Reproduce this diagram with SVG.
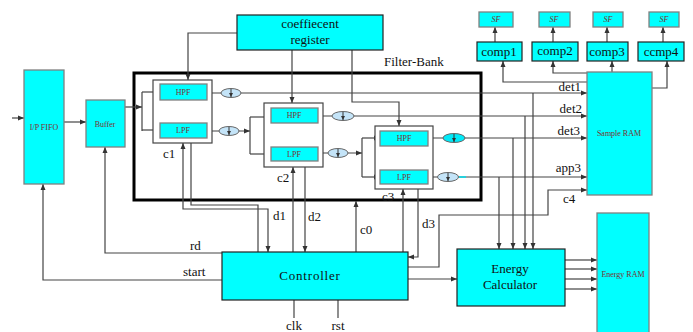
<svg xmlns="http://www.w3.org/2000/svg" width="693" height="332" viewBox="0 0 693 332">
<style>
.box{fill:#00ffff;stroke:#808080;stroke-width:1.3}
.bk{fill:#00ffff;stroke:#222;stroke-width:1.2}
.cbox{fill:#fff;stroke:#444;stroke-width:1.2}
.w{fill:none;stroke:#444;stroke-width:1.2}
.a{marker-end:url(#ar)}
.el{fill:#c4e4f8;stroke:#666;stroke-width:1}
.ea{stroke:#333;stroke-width:1;marker-end:url(#ea)}
.t{font-family:"Liberation Serif",serif;font-size:13px;fill:#111}
.m{font-family:"Liberation Serif",serif;font-size:8px;fill:#7a3030;text-anchor:middle}
</style>
<defs>
<marker id="ar" markerUnits="userSpaceOnUse" markerWidth="6" markerHeight="6" refX="6" refY="3" orient="auto-start-reverse"><path d="M0,0.5 L6,3 L0,5.5 z" fill="#333"/></marker>
<marker id="ea" markerUnits="userSpaceOnUse" markerWidth="4" markerHeight="4" refX="4" refY="2" orient="auto"><path d="M0,0 L4,2 L0,4 z" fill="#333"/></marker>
</defs>
<rect width="693" height="332" fill="#fff"/>

<g id="filter-bank">
<rect x="134" y="73" width="347" height="127" fill="none" stroke="#000" stroke-width="3"/>
<text class="t" x="384" y="66">Filter-Bank</text>
</g>

<g id="connectors">
<path class="w a" d="M12,118 H24"/>
<path class="w a" d="M64,122 H86"/>
<path class="w a" d="M125,107 H142"/>
<path class="w" d="M142,92 V131"/>
<path class="w a" d="M142,92 H160"/>
<path class="w a" d="M142,130 H160"/>
<path class="w a" d="M237,33 H188 V80"/>
<path class="w a" d="M292,50 V103"/>
<path class="w a" d="M352,50 V102 H399 V126"/>
<path class="w a" d="M207,93 H587"/>
<path class="w a" d="M207,131 H250"/>
<path class="w" d="M250,117 V154"/>
<path class="w a" d="M250,117 H271"/>
<path class="w a" d="M250,154 H271"/>
<path class="w a" d="M318,116 H587"/>
<path class="w a" d="M318,153 H362"/>
<path class="w" d="M362,138 V177"/>
<path class="w a" d="M362,138 H380"/>
<path class="w a" d="M362,177 H380"/>
<path class="w a" d="M428,138 H587"/>
<path class="w a" d="M428,177 H587"/>
<path d="M459,177 H466" stroke="#00e0f0" stroke-width="1.5"/>
<path class="w a" d="M408,267 H439 V215 H548 V190 H587"/>
<path class="w a" d="M418,189 V257 H408"/>
<path class="w a" d="M403,252 V189"/>
<path class="w a" d="M356,252 V201"/>
<path class="w a" d="M305,167 V252"/>
<path class="w a" d="M293,252 V167"/>
<path class="w a" d="M268,252 V209 H183 V143" style="marker-start:url(#ar)"/>
<path class="w" d="M191,143 V205 H258 V252"/>
<path class="w a" d="M222,253 H105 V147"/>
<path class="w a" d="M222,280 H43 V184"/>
<path class="w a" d="M408,279 H457"/>
<path class="w a" d="M533,93 V249"/>
<path class="w a" d="M525,116 V249"/>
<path class="w a" d="M513,138 V249"/>
<path class="w a" d="M499,177 V249"/>
<path class="w a" d="M565,260 H597"/>
<path class="w a" d="M565,269 H597"/>
<path class="w a" d="M565,279 H597"/>
<path class="w a" d="M565,289 H597"/>
<path class="w" d="M294,300 V318"/>
<path class="w" d="M338,300 V318"/>
<path class="w a" d="M587,82 H503 V61"/>
<path class="w a" d="M587,73 H553 V61"/>
<path class="w a" d="M612,72 V61"/>
<path class="w a" d="M652,88 H667 V61"/>
<path class="w a" d="M495,42 V27"/>
<path class="w a" d="M553,42 V27"/>
<path class="w a" d="M607,42 V27"/>
<path class="w a" d="M663,42 V27"/>
<g id="dividers">
<ellipse class="el" cx="231" cy="93" rx="10" ry="4.5"/>
<ellipse class="el" cx="229" cy="131" rx="10" ry="4.5"/>
<ellipse class="el" cx="343" cy="116" rx="11" ry="4.5"/>
<ellipse class="el" cx="338" cy="153" rx="10" ry="4.5"/>
<ellipse cx="454" cy="138" rx="11" ry="4.5" fill="#00eaf8" stroke="#666" stroke-width="1"/>
<ellipse class="el" cx="448" cy="177" rx="10.5" ry="4.5"/>
<path class="ea" d="M231,89 V97"/>
<path class="ea" d="M229,127 V135"/>
<path class="ea" d="M343,112 V120"/>
<path class="ea" d="M338,149 V157"/>
<path class="ea" d="M454,134 V142"/>
<path class="ea" d="M448,173 V181"/>
</g>
<text class="t" x="273" y="220">d1</text>
<text class="t" x="308" y="221">d2</text>
<text class="t" x="360" y="234">c0</text>
<text class="t" x="422" y="228">d3</text>
<text class="t" x="190" y="250">rd</text>
<text class="t" x="183" y="276">start</text>
<text class="t" x="563" y="203">c4</text>
<text class="t" x="581" y="91" text-anchor="end">det1</text>
<text class="t" x="582" y="113" text-anchor="end">det2</text>
<text class="t" x="580" y="135" text-anchor="end">det3</text>
<text class="t" x="581" y="172" text-anchor="end">app3</text>
<text class="t" x="294" y="330" text-anchor="middle">clk</text>
<text class="t" x="338" y="330" text-anchor="middle">rst</text>
</g>

<g id="ip-fifo"><rect class="box" x="24" y="70" width="40" height="114"/><text class="m" x="44" y="130">I/P FIFO</text></g>
<g id="buffer"><rect class="box" x="86" y="100" width="39" height="47"/><text class="m" x="105" y="127">Buffer</text></g>
<g id="coef-register"><rect class="bk" x="237" y="15" width="146" height="35"/><text class="t" x="310" y="28" text-anchor="middle">coeffiecent</text><text class="t" x="310" y="44" text-anchor="middle">register</text></g>

<g id="c1"><rect class="cbox" x="153" y="80" width="59" height="63"/>
<rect class="box" x="160" y="84" width="47" height="16"/><text class="m" x="183" y="95">HPF</text>
<rect class="box" x="160" y="123" width="47" height="15"/><text class="m" x="183" y="133">LPF</text>
<text class="t" x="163" y="158">c1</text></g>
<g id="c2"><rect class="cbox" x="264" y="103" width="59" height="64"/>
<rect class="box" x="271" y="108" width="47" height="15"/><text class="m" x="294" y="118">HPF</text>
<rect class="box" x="271" y="147" width="47" height="14"/><text class="m" x="294" y="157">LPF</text>
<text class="t" x="277" y="182">c2</text></g>
<g id="c3"><rect class="cbox" x="375" y="126" width="58" height="63"/>
<rect class="box" x="380" y="131" width="48" height="15"/><text class="m" x="404" y="141">HPF</text>
<rect class="box" x="380" y="170" width="48" height="14"/><text class="m" x="404" y="180">LPF</text>
<text class="t" x="382" y="201">c3</text></g>

<g id="sample-ram"><rect class="box" x="587" y="72" width="65" height="123"/><text class="m" x="619" y="136">Sample RAM</text></g>
<g id="energy-ram"><rect class="box" x="597" y="213" width="52" height="125"/><text class="m" x="623" y="277">Energy RAM</text></g>
<g id="controller"><rect class="bk" x="222" y="252" width="186" height="48"/><text class="t" x="310" y="280" text-anchor="middle" font-size="14" letter-spacing="0.8">Controller</text></g>
<g id="energy-calculator"><rect class="bk" x="457" y="249" width="108" height="57"/><text class="t" x="510" y="273" text-anchor="middle" font-size="14">Energy</text><text class="t" x="510" y="289" text-anchor="middle" font-size="14">Calculator</text></g>

<g id="comp1"><rect class="bk" x="477" y="42" width="45" height="19"/><text class="t" x="499" y="56" text-anchor="middle">comp1</text></g>
<g id="comp2"><rect class="bk" x="532" y="42" width="46" height="19"/><text class="t" x="555" y="55" text-anchor="middle">comp2</text></g>
<g id="comp3"><rect class="bk" x="587" y="42" width="41" height="19"/><text class="t" x="607" y="56" text-anchor="middle">comp3</text></g>
<g id="comp4"><rect class="bk" x="638" y="42" width="46" height="19"/><text class="t" x="661" y="56" text-anchor="middle">ccmp4</text></g>
<g id="sf1"><rect class="box" x="479" y="12" width="34" height="15"/><text class="m" x="496" y="22" font-style="italic">SF</text></g>
<g id="sf2"><rect class="box" x="539" y="12" width="31" height="15"/><text class="m" x="554" y="22" font-style="italic">SF</text></g>
<g id="sf3"><rect class="box" x="593" y="12" width="30" height="15"/><text class="m" x="608" y="22" font-style="italic">SF</text></g>
<g id="sf4"><rect class="box" x="649" y="12" width="30" height="15"/><text class="m" x="664" y="22" font-style="italic">SF</text></g>
</svg>
